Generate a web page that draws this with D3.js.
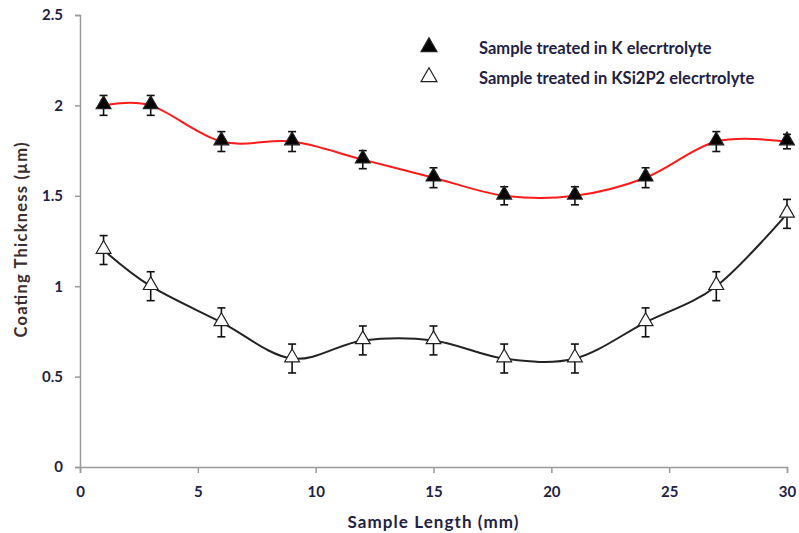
<!DOCTYPE html>
<html>
<head>
<meta charset="utf-8">
<script src="https://cdn.jsdelivr.net/npm/d3@7"></script>
<style>
  body { margin: 0; background: #fff; }
  svg { display: block; }
  .tick text { font-family: Lato, "Liberation Sans", sans-serif; font-weight: bold; }
</style>
</head>
<body>
<div id="chart"></div>
<script>
// 数据
const sampleLength = [1, 3, 6, 9, 12, 15, 18, 21, 24, 27, 30];
const kThickness = [2.0, 2.0, 1.8, 1.8, 1.7, 1.6, 1.5, 1.5, 1.6, 1.8, 1.8];
const kError = [0.055, 0.055, 0.055, 0.055, 0.05, 0.055, 0.05, 0.05, 0.055, 0.055, 0.04];
const ksiThickness = [1.2, 1.0, 0.8, 0.6, 0.7, 0.7, 0.6, 0.6, 0.8, 1.0, 1.4];
const ksiError = [0.08, 0.08, 0.08, 0.08, 0.08, 0.08, 0.08, 0.08, 0.08, 0.08, 0.08];
const xTicks = [0, 5, 10, 15, 20, 25, 30];
const yTicks = [0, 0.5, 1, 1.5, 2, 2.5];
const seriesNames = ["Sample treated in K elecrtrolyte", "Sample treated in KSi2P2 elecrtrolyte"];

const W = 799, H = 533;
const margin = { left: 80, right: 12, top: 15, bottom: 66 };
const textColor = "#1e2244";
const axisColor = "#9a9a9a";

const svg = d3.select("#chart").append("svg").attr("width", W).attr("height", H);

const x = d3.scaleLinear().domain([0, 30]).range([margin.left, W - margin.right]);
const y = d3.scaleLinear().domain([0, 2.5]).range([H - margin.bottom, margin.top]);

// 坐标轴
const xAxis = svg.append("g")
  .attr("transform", `translate(0,${y(0)})`)
  .call(d3.axisBottom(x).tickValues(xTicks).tickSize(6).tickPadding(13).tickFormat(d3.format("d")));
xAxis.selectAll(".domain, .tick line").attr("stroke", axisColor).attr("stroke-width", 1.5);
xAxis.selectAll("text").attr("fill", textColor).style("font-size", "15px");

const yAxis = svg.append("g")
  .attr("transform", `translate(${x(0)},0)`)
  .call(d3.axisLeft(y).tickValues(yTicks).tickSize(5).tickPadding(12).tickFormat(d => d));
yAxis.selectAll(".domain, .tick line").attr("stroke", axisColor).attr("stroke-width", 1.5);
yAxis.selectAll("text").attr("fill", textColor).style("font-size", "15px");

// 轴标题
svg.append("text")
  .attr("x", 433).attr("y", 528)
  .attr("text-anchor", "middle")
  .attr("textLength", 171).attr("lengthAdjust", "spacing")
  .style("font-family", "Lato, sans-serif").style("font-weight", "bold").style("font-size", "17px")
  .attr("fill", textColor)
  .text("Sample Length (mm)");

svg.append("text")
  .attr("transform", "rotate(-90)")
  .attr("x", -240).attr("y", 27)
  .attr("text-anchor", "middle")
  .attr("textLength", 195).attr("lengthAdjust", "spacing")
  .style("font-family", "Lato, sans-serif").style("font-weight", "bold").style("font-size", "16.5px")
  .attr("fill", "#3a2e2e")
  .text("Coating Thickness (µm)");

const line = d3.line().x(d => x(d[0])).y(d => y(d[1])).curve(d3.curveCardinal.tension(0));

const series = [
  { values: kThickness, err: kError, color: "#ff1a1a", fill: "#000" },
  { values: ksiThickness, err: ksiError, color: "#222", fill: "#fff" }
];

const tri = d3.symbol().type(d3.symbolTriangle).size(95);

series.forEach(s => {
  const pts = sampleLength.map((v, i) => [v, s.values[i], s.err[i]]);
  svg.append("path")
    .datum(pts)
    .attr("fill", "none")
    .attr("stroke", s.color)
    .attr("stroke-width", 2)
    .attr("d", line);

  const g = svg.append("g").selectAll("g").data(pts).enter().append("g");
  // 误差线
  g.append("line")
    .attr("x1", d => x(d[0])).attr("x2", d => x(d[0]))
    .attr("y1", d => y(d[1] + d[2])).attr("y2", d => y(d[1] - d[2]))
    .attr("stroke", "#111").attr("stroke-width", 1.6);
  [1, -1].forEach(sg => {
    g.append("line")
      .attr("x1", d => x(d[0]) - 4).attr("x2", d => x(d[0]) + 4)
      .attr("y1", d => y(d[1] + sg * d[2])).attr("y2", d => y(d[1] + sg * d[2]))
      .attr("stroke", "#111").attr("stroke-width", 1.6);
  });
  g.append("path")
    .attr("transform", d => `translate(${x(d[0])},${y(d[1]) - 1})`)
    .attr("d", tri)
    .attr("fill", s.fill)
    .attr("stroke", "#222")
    .attr("stroke-width", 1.2);
});

// 图例
const legend = svg.append("g");
seriesNames.forEach((name, i) => {
  const ly = 48 + i * 30;
  legend.append("path")
    .attr("transform", `translate(429,${ly - 1})`)
    .attr("d", d3.symbol().type(d3.symbolTriangle).size(110))
    .attr("fill", series[i].fill)
    .attr("stroke", "#222")
    .attr("stroke-width", 1.2);
  legend.append("text")
    .attr("x", 479).attr("y", ly + 6)
    .style("font-family", "Lato, sans-serif").style("font-weight", "bold").style("font-size", "16.5px")
    .attr("fill", textColor)
    .text(name);
});
</script>
</body>
</html>
